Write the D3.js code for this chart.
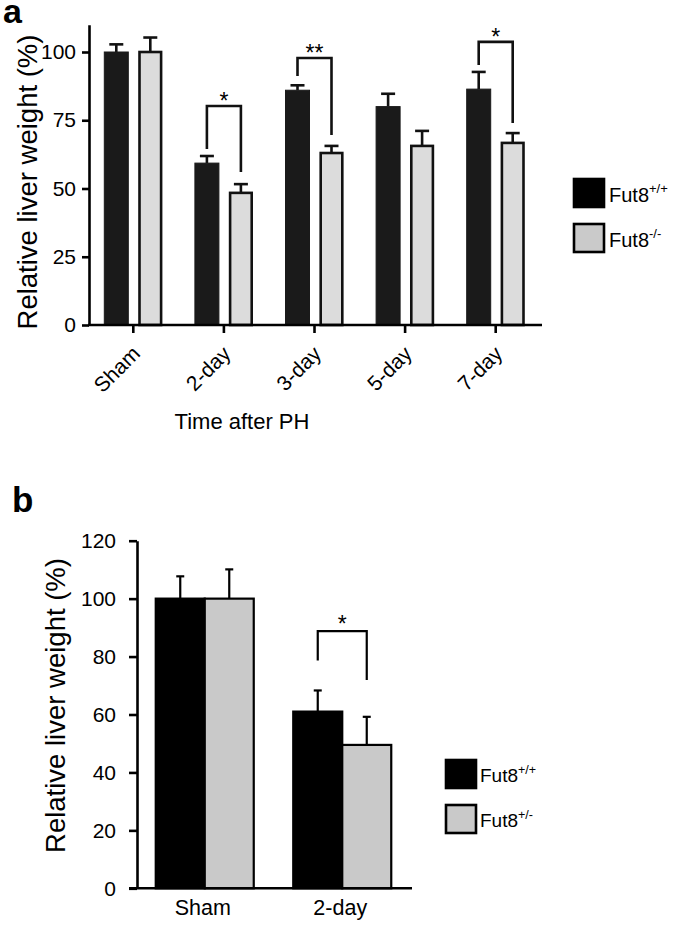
<!DOCTYPE html>
<html>
<head>
<meta charset="utf-8">
<script src="https://cdn.jsdelivr.net/npm/d3@7"></script>
<style>
  html, body { margin: 0; padding: 0; background: #fff; }
  svg { display: block; font-family: "Liberation Sans", Arial, Helvetica, sans-serif; }
</style>
</head>
<body>
<svg id="chart" width="686" height="927"></svg>
<script>
// ---------- Panel a data ----------
const categoriesA = ["Sham", "2-day", "3-day", "5-day", "7-day"];
const wtA = [100, 59.3, 86.0, 80.0, 86.4];
const wtErrA = [2.8, 2.6, 1.8, 4.7, 6.3];
const koA = [100, 48.4, 63.0, 65.6, 66.7];
const koErrA = [5.3, 3.2, 2.6, 5.5, 3.6];
const yTicksA = [0, 25, 50, 75, 100];
const sigCatsA = ["2-day", "3-day", "7-day"];
const sigLabelsA = ["*", "**", "*"];
const sigTopA = [80.2, 97.8, 103.7];
const sigLeftEndA = [64.5, 91.2, 95.2];
const sigRightEndA = [56.0, 69.6, 74.0];
const legendA = [{ base: "Fut8", sup: "+/+" }, { base: "Fut8", sup: "-/-" }];

// ---------- Panel b data ----------
const categoriesB = ["Sham", "2-day"];
const wtB = [100, 61.0];
const wtErrB = [7.7, 7.3];
const hetB = [100, 49.5];
const hetErrB = [10.1, 9.7];
const yTicksB = [0, 20, 40, 60, 80, 100, 120];
const sigCatsB = ["2-day"];
const sigLabelsB = ["*"];
const sigTopB = [88.8];
const sigLeftEndB = [78.6];
const sigRightEndB = [71.9];
const legendB = [{ base: "Fut8", sup: "+/+" }, { base: "Fut8", sup: "+/-" }];

const svg = d3.select("#chart");
svg.append("rect").attr("width", 686).attr("height", 927).attr("fill", "#fff");

function styleAxis(g, sw, fs) {
  g.selectAll("path.domain").attr("stroke", "#000").attr("stroke-width", sw);
  g.selectAll(".tick line").attr("stroke", "#000").attr("stroke-width", sw);
  g.selectAll(".tick text").attr("fill", "#000").attr("font-size", fs)
    .attr("font-family", '"Liberation Sans", Arial, sans-serif');
}

// =================== PANEL A ===================
(function () {
  const g = svg.append("g");
  const y = d3.scaleLinear().domain([0, 110]).range([325, 24.7]);
  const x = d3.scaleBand().domain(categoriesA).range([88, 541]).paddingInner(0).paddingOuter(0);
  const sub = d3.scaleBand().domain(["wt", "ko"]).range([-29, 29]).paddingInner(10 / 34);

  const rows = categoriesA.map((c, i) => ({ c, wt: wtA[i], wtE: wtErrA[i], ko: koA[i], koE: koErrA[i] }));
  const cx = c => x(c) + x.bandwidth() / 2;

  rows.forEach(r => {
    [["wt", r.wt, r.wtE], ["ko", r.ko, r.koE]].forEach(([k, v, e]) => {
      const bx = cx(r.c) + sub(k) + sub.bandwidth() / 2;
      g.append("line").attr("x1", bx).attr("x2", bx).attr("y1", y(v)).attr("y2", y(v + e))
        .attr("stroke", "#111").attr("stroke-width", 2.6);
      g.append("line").attr("x1", bx - 7).attr("x2", bx + 7).attr("y1", y(v + e)).attr("y2", y(v + e))
        .attr("stroke", "#111").attr("stroke-width", 2.6);
    });
  });

  rows.forEach(r => {
    g.append("rect").attr("x", cx(r.c) + sub("wt")).attr("y", y(r.wt))
      .attr("width", sub.bandwidth()).attr("height", y(0) - y(r.wt))
      .attr("fill", "#1a1a1a").attr("stroke", "#1a1a1a").attr("stroke-width", 1);
    g.append("rect").attr("x", cx(r.c) + sub("ko") + 1.2).attr("y", y(r.ko))
      .attr("width", sub.bandwidth() - 2.4).attr("height", y(0) - y(r.ko))
      .attr("fill", "#dcdcdc").attr("stroke", "#111").attr("stroke-width", 2.6);
  });

  const ya = g.append("g").attr("transform", "translate(89,0)")
    .call(d3.axisLeft(y).tickValues(yTicksA).tickSize(7).tickSizeOuter(0).tickPadding(6));
  styleAxis(ya, 2.6, 21);

  const xa = g.append("g").attr("transform", "translate(0,325)")
    .call(d3.axisBottom(x).tickSize(8).tickSizeOuter(0).tickPadding(0));
  styleAxis(xa, 2.6, 21);
  xa.selectAll("path.domain").attr("d", "M88,0H542");
  xa.selectAll(".tick text")
    .attr("text-anchor", "end")
    .attr("dy", 0)
    .attr("y", 0)
    .attr("transform", "translate(8,30) rotate(-45)");

  sigCatsA.forEach((c, i) => {
    const xl = cx(c) + sub("wt") + sub.bandwidth() / 2;
    const xr = cx(c) + sub("ko") + sub.bandwidth() / 2;
    g.append("path")
      .attr("d", `M${xl},${y(sigLeftEndA[i])}V${y(sigTopA[i])}H${xr}V${y(sigRightEndA[i])}`)
      .attr("fill", "none").attr("stroke", "#111").attr("stroke-width", 2.6);
    g.append("text").attr("x", (xl + xr) / 2).attr("y", y(sigTopA[i]) + 3)
      .attr("text-anchor", "middle").attr("font-size", 23).text(sigLabelsA[i]);
  });

  g.append("text").attr("transform", "rotate(-90)").attr("x", -182).attr("y", 37)
    .attr("text-anchor", "middle").attr("font-size", 27.5).text("Relative liver weight (%)");
  g.append("text").attr("x", 242).attr("y", 429).attr("text-anchor", "middle")
    .attr("font-size", 22).text("Time after PH");
  g.append("text").attr("x", 3).attr("y", 23).attr("font-size", 34).attr("font-weight", "bold").text("a");

  const fills = ["#000", "#cacaca"];
  legendA.forEach((d, i) => {
    const top = 178 + i * 45;
    g.append("rect").attr("x", 574).attr("y", top + 1).attr("width", 30).attr("height", 28)
      .attr("fill", fills[i]).attr("stroke", "#000").attr("stroke-width", 2.6);
    const t = g.append("text").attr("x", 609).attr("y", top + 24).attr("font-size", 20);
    t.append("tspan").text(d.base);
    t.append("tspan").attr("font-size", 13).attr("dy", -9).text(d.sup);
  });
})();

// =================== PANEL B ===================
(function () {
  const g = svg.append("g");
  const y = d3.scaleLinear().domain([0, 120]).range([888.3, 540.7]);
  const x = d3.scaleBand().domain(categoriesB).range([137, 412]).paddingInner(0).paddingOuter(0);
  const sub = d3.scaleBand().domain(["wt", "het"]).range([-49, 49]).paddingInner(0);
  const cx = c => x(c) + x.bandwidth() / 2 - 1;
  const rows = categoriesB.map((c, i) => ({ c, wt: wtB[i], wtE: wtErrB[i], het: hetB[i], hetE: hetErrB[i] }));

  rows.forEach(r => {
    [["wt", r.wt, r.wtE], ["het", r.het, r.hetE]].forEach(([k, v, e]) => {
      const bx = cx(r.c) + sub(k) + sub.bandwidth() / 2;
      g.append("line").attr("x1", bx).attr("x2", bx).attr("y1", y(v)).attr("y2", y(v + e))
        .attr("stroke", "#000").attr("stroke-width", 2.2);
      g.append("line").attr("x1", bx - 4).attr("x2", bx + 4).attr("y1", y(v + e)).attr("y2", y(v + e))
        .attr("stroke", "#000").attr("stroke-width", 2.2);
    });
  });

  rows.forEach(r => {
    g.append("rect").attr("x", cx(r.c) + sub("wt")).attr("y", y(r.wt))
      .attr("width", sub.bandwidth()).attr("height", y(0) - y(r.wt))
      .attr("fill", "#000").attr("stroke", "#000").attr("stroke-width", 2.2);
    g.append("rect").attr("x", cx(r.c) + sub("het")).attr("y", y(r.het))
      .attr("width", sub.bandwidth()).attr("height", y(0) - y(r.het))
      .attr("fill", "#c9c9c9").attr("stroke", "#000").attr("stroke-width", 2.2);
  });

  const ya = g.append("g").attr("transform", "translate(137,0)")
    .call(d3.axisLeft(y).tickValues(yTicksB).tickSize(8).tickSizeOuter(0).tickPadding(13));
  styleAxis(ya, 2.6, 21);

  const xa = g.append("g").attr("transform", "translate(0,888.3)")
    .call(d3.axisBottom(x).tickSize(0).tickSizeOuter(0).tickPadding(11));
  styleAxis(xa, 2.6, 21.5);
  xa.selectAll("path.domain").attr("d", "M129,0H412");
  xa.selectAll(".tick text").attr("dy", "0.71em").attr("transform", "translate(-3,0)");

  sigCatsB.forEach((c, i) => {
    const xl = cx(c) + sub("wt") + sub.bandwidth() / 2;
    const xr = cx(c) + sub("het") + sub.bandwidth() / 2;
    g.append("path")
      .attr("d", `M${xl},${y(sigLeftEndB[i])}V${y(sigTopB[i])}H${xr}V${y(sigRightEndB[i])}`)
      .attr("fill", "none").attr("stroke", "#000").attr("stroke-width", 2.2);
    g.append("text").attr("x", (xl + xr) / 2).attr("y", y(sigTopB[i]) + 1)
      .attr("text-anchor", "middle").attr("font-size", 23).text(sigLabelsB[i]);
  });

  g.append("text").attr("transform", "rotate(-90)").attr("x", -705.5).attr("y", 65)
    .attr("text-anchor", "middle").attr("font-size", 27.5).text("Relative liver weight (%)");
  g.append("text").attr("x", 12).attr("y", 512).attr("font-size", 35).attr("font-weight", "bold").text("b");

  const fills = ["#000", "#c9c9c9"];
  legendB.forEach((d, i) => {
    const top = 759 + i * 45;
    g.append("rect").attr("x", 446).attr("y", top + 1).attr("width", 30).attr("height", 28)
      .attr("fill", fills[i]).attr("stroke", "#000").attr("stroke-width", 2.6);
    const t = g.append("text").attr("x", 480).attr("y", top + 23).attr("font-size", 19);
    t.append("tspan").text(d.base);
    t.append("tspan").attr("font-size", 12.5).attr("dy", -8).text(d.sup);
  });
})();
</script>
</body>
</html>
